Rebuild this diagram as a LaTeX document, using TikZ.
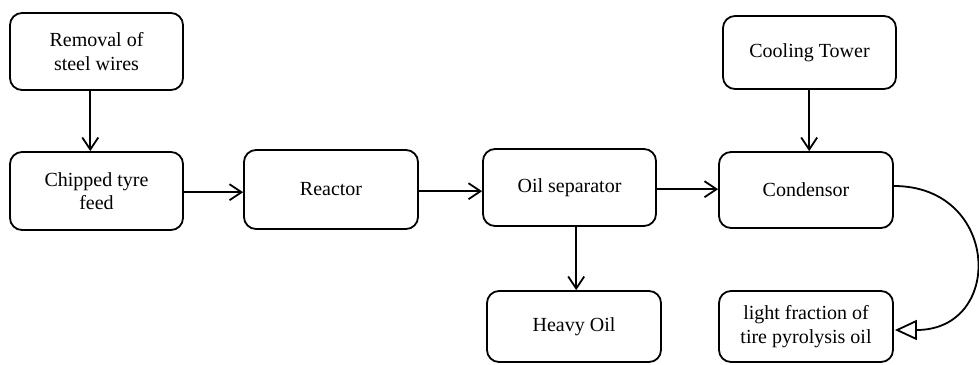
\documentclass[tikz,border=0pt]{standalone}
\usepackage{fontspec}
\setmainfont{Liberation Serif}
\usetikzlibrary{arrows.meta,calc}
\begin{document}
\begin{tikzpicture}[x=1pt,y=1pt,
  box/.style={draw=black, line width=1.8pt, rounded corners=12pt, align=center,
    font=\fontsize{20}{23.5}\selectfont, inner sep=0pt},
  arr/.style={line width=1.8pt, -{Straight Barb[length=12pt,width=16pt,line width=1.8pt]}},
  openarr/.style={line width=1.8pt, -{Triangle[open,length=22pt,width=20pt,line width=1.8pt]}}]
\useasboundingbox (0,0) rectangle (979,-364);
\node[box, minimum width=173pt, minimum height=77pt] (wire) at (96.5,-51.5) {Removal of\\steel wires};
\node[box, minimum width=173pt, minimum height=78pt] (chip) at (96.5,-191) {Chipped tyre\\feed};
\node[box, minimum width=174pt, minimum height=79pt] (reac) at (331,-189.5) {Reactor};
\node[box, minimum width=173pt, minimum height=77pt] (oil) at (569.5,-187.5) {Oil separator};
\node[box, minimum width=174pt, minimum height=71pt] (heavy) at (574,-326.5) {Heavy Oil};
\node[box, minimum width=174pt, minimum height=76pt] (cond) at (806,-190) {Condensor};
\node[box, minimum width=174pt, minimum height=71pt] (light) at (806,-326.5) {light fraction of\\tire pyrolysis oil};
\node[box, minimum width=173pt, minimum height=73pt] (cool) at (809.5,-52.5) {Cooling Tower};
\draw[arr] ([xshift=-6.2pt]wire.south) -- ([xshift=-6.2pt]wire.south |- chip.north);
\draw[arr] ([yshift=-1.2pt]chip.east) -- ([yshift=-1.2pt]chip.east -| reac.west);
\draw[arr] ([yshift=-1.7pt]reac.east) -- ([yshift=-1.7pt]reac.east -| oil.west);
\draw[arr] ([yshift=-1.7pt]oil.east) -- ([yshift=-1.7pt]oil.east -| cond.west);
\draw[arr] ([xshift=-0.3pt]cool.south) -- ([xshift=-0.3pt]cool.south |- cond.north);
\draw[arr] ([xshift=6.7pt]oil.south) -- ([xshift=6.7pt]oil.south |- heavy.north);
\draw[openarr] ([yshift=4pt]cond.east) .. controls (1000,-186) and (1005,-330) .. ([yshift=-3.5pt,xshift=1pt]light.east);
\end{tikzpicture}
\end{document}
